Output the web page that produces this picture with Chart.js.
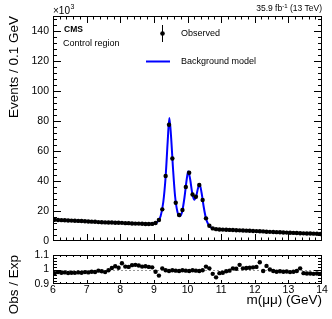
<!DOCTYPE html>
<html>
<head>
<meta charset="utf-8">
<script src="https://cdn.jsdelivr.net/npm/chart.js@4.4.1/dist/chart.umd.min.js"></script>
<style>
  html, body { margin: 0; padding: 0; background: #fff; }
  #wrap { position: relative; width: 332px; height: 319px; background: #fff; }
  #wrap canvas { position: absolute; left: 0; top: 0; }
</style>
</head>
<body>
<div id="wrap">
  <canvas id="mainChart" width="332" height="319"></canvas>
  <canvas id="ratioChart" width="332" height="319"></canvas>
</div>
<script>
/* bin centres, m(mumu) in GeV, 0.1 GeV bins */
const massBins = [
  6.05, 6.15, 6.25, 6.35, 6.45, 6.55, 6.65, 6.75, 6.85, 6.95,
  7.05, 7.15, 7.25, 7.35, 7.45, 7.55, 7.65, 7.75, 7.85, 7.95,
  8.05, 8.15, 8.25, 8.35, 8.45, 8.55, 8.65, 8.75, 8.85, 8.95,
  9.05, 9.15, 9.25, 9.35, 9.45, 9.55, 9.65, 9.75, 9.85, 9.95,
  10.05, 10.15, 10.25, 10.35, 10.45, 10.55, 10.65, 10.75, 10.85, 10.95,
  11.05, 11.15, 11.25, 11.35, 11.45, 11.55, 11.65, 11.75, 11.85, 11.95,
  12.05, 12.15, 12.25, 12.35, 12.45, 12.55, 12.65, 12.75, 12.85, 12.95,
  13.05, 13.15, 13.25, 13.35, 13.45, 13.55, 13.65, 13.75, 13.85, 13.95
];

/* observed events (x10^3) */
const observed = [
  14.1, 14.0, 13.9, 13.8, 13.7, 13.6, 13.5, 13.4, 13.3, 13.2,
  13.0, 12.9, 12.8, 12.6, 12.5, 12.4, 12.3, 12.3, 12.2, 12.2,
  12.1, 11.9, 11.9, 11.7, 11.6, 11.6, 11.5, 11.3, 11.3, 11.4,
  12.0, 14.0, 21.1, 43.3, 77.5, 55.0, 25.5, 17.3, 20.7, 36.0,
  45.5, 31.0, 29.5, 37.3, 27.3, 15.1, 10.2, 8.4, 7.9, 7.7,
  7.6, 7.5, 7.4, 7.3, 7.2, 7.1, 7.0, 6.9, 6.8, 6.7,
  6.6, 6.5, 6.4, 6.2, 6.1, 6.0, 5.9, 5.8, 5.7, 5.6,
  5.5, 5.4, 5.3, 5.2, 5.1, 5.0, 5.0, 4.9, 4.8, 4.7
];

/* background model curve */
const modelMass = [
  6.0, 6.5, 7.0, 7.5, 8.0, 8.5, 8.8, 9.0, 9.1, 9.2,
  9.28, 9.35, 9.41, 9.46, 9.51, 9.57, 9.63, 9.7, 9.77, 9.84,
  9.91, 9.97, 10.02, 10.08, 10.14, 10.2, 10.26, 10.31, 10.36, 10.42,
  10.48, 10.55, 10.62, 10.7, 10.8, 11.0, 11.5, 12.0, 12.5, 13.0,
  13.5, 14.0
];
const modelValues = [
  14.15, 13.65, 13.1, 12.45, 12.15, 11.6, 11.3, 11.6, 12.7, 16.5,
  26.0, 43.0, 66.0, 82.0, 70.0, 48.0, 30.0, 19.5, 16.5, 19.5,
  29.0, 40.0, 46.5, 41.0, 32.0, 27.5, 30.0, 35.0, 37.8, 32.0,
  23.0, 15.0, 11.0, 9.0, 8.1, 7.65, 7.15, 6.65, 6.05, 5.55,
  5.05, 4.65
];

/* observed / expected */
const ratio = [
  0.975, 0.982, 0.978, 0.980, 0.976, 0.978, 0.977, 0.980, 0.978, 0.982,
  0.980, 0.985, 0.983, 0.992, 0.988, 0.982, 0.995, 1.010, 1.022, 1.012,
  1.043, 1.020, 1.018, 1.030, 1.032, 1.028, 1.020, 1.022, 1.018, 1.015,
  0.985, 0.958, 1.008, 0.995, 0.990, 0.995, 0.992, 0.990, 0.995, 0.992,
  0.990, 0.995, 0.992, 0.990, 0.995, 1.020, 1.008, 0.970, 0.946, 0.975,
  0.978, 0.988, 0.992, 1.008, 1.005, 1.032, 1.008, 1.010, 1.012, 1.015,
  1.018, 1.050, 0.990, 1.025, 1.000, 0.990, 0.985, 0.988, 0.984, 0.986,
  0.982, 0.985, 0.990, 1.008, 0.975, 0.972, 0.972, 0.970, 0.972, 0.970
];
const ratioTicks = [0.9, 1, 1.1];

const FONT = '"Liberation Sans", Arial, Helvetica, sans-serif';

// ROOT-like frame with inward ticks on all four sides
function rootFrame(opts) {
    return {
        id: 'rootFrame',
        afterDraw(chart) {
            const { ctx, chartArea: a, scales: { x, y } } = chart;
            ctx.save();
            ctx.strokeStyle = '#000';
            ctx.lineWidth = 1;
            ctx.strokeRect(a.left + 0.5, a.top + 0.5, a.right - a.left - 1, a.bottom - a.top - 1);
            ctx.beginPath();
            const nx = Math.round((x.max - x.min) / opts.xMinor);
            for (let i = 1; i < nx; i++) {
                const v = x.min + i * opts.xMinor;
                const major = Math.abs(v / opts.xMajor - Math.round(v / opts.xMajor)) < 1e-6;
                const len = major ? opts.xLen : opts.xLen / 2;
                const px = Math.round(x.getPixelForValue(v)) + 0.5;
                ctx.moveTo(px, a.bottom); ctx.lineTo(px, a.bottom - len);
                ctx.moveTo(px, a.top); ctx.lineTo(px, a.top + len);
            }
            const ny = Math.round((y.max - y.min) / opts.yMinor);
            for (let i = 1; i < ny; i++) {
                const v = y.min + i * opts.yMinor;
                const major = Math.abs(v / opts.yMajor - Math.round(v / opts.yMajor)) < 1e-6;
                const len = major ? opts.yLen : opts.yLen / 2;
                const py = Math.round(y.getPixelForValue(v)) + 0.5;
                ctx.moveTo(a.left, py); ctx.lineTo(a.left + len, py);
                ctx.moveTo(a.right, py); ctx.lineTo(a.right - len, py);
            }
            ctx.stroke();
            ctx.restore();
        }
    };
}

const annotations = {
    id: 'annotations',
    afterDraw(chart) {
        const ctx = chart.ctx;
        ctx.save();
        ctx.fillStyle = '#000';
        ctx.textBaseline = 'alphabetic';
        ctx.textAlign = 'left';

        // x10^3
        ctx.font = '10px ' + FONT;
        ctx.fillText('\u00d710', 53, 14);
        const w10 = ctx.measureText('\u00d710').width;
        ctx.font = '7px ' + FONT;
        ctx.fillText('3', 53 + w10 + 0.5, 9);

        // lumi label
        const p1 = '35.9 fb', p2 = '-1', p3 = ' (13 TeV)';
        ctx.font = '8.5px ' + FONT;
        const w1 = ctx.measureText(p1).width, w3 = ctx.measureText(p3).width;
        ctx.font = '6px ' + FONT;
        const w2 = ctx.measureText(p2).width;
        let lx = 322 - (w1 + w2 + w3);
        ctx.font = '8.5px ' + FONT;
        ctx.fillText(p1, lx, 11);
        ctx.font = '6px ' + FONT;
        ctx.fillText(p2, lx + w1, 7.5);
        ctx.font = '8.5px ' + FONT;
        ctx.fillText(p3, lx + w1 + w2, 11);

        // CMS label
        ctx.font = 'bold 8.5px ' + FONT;
        ctx.fillText('CMS', 64, 32);
        ctx.font = '9px ' + FONT;
        ctx.fillText('Control region', 63, 46);

        // legend
        ctx.strokeStyle = '#000';
        ctx.lineWidth = 1;
        ctx.beginPath();
        ctx.moveTo(162.5, 25); ctx.lineTo(162.5, 42);
        ctx.stroke();
        ctx.beginPath();
        ctx.arc(162.5, 33.5, 2.3, 0, Math.PI * 2);
        ctx.fill();
        ctx.strokeStyle = '#0000ff';
        ctx.lineWidth = 2;
        ctx.beginPath();
        ctx.moveTo(146, 61.5); ctx.lineTo(170, 61.5);
        ctx.stroke();
        ctx.font = '9px ' + FONT;
        ctx.textBaseline = 'middle';
        ctx.fillText('Observed', 181, 33.5);
        ctx.fillText('Background model', 181, 61.5);
        ctx.restore();
    }
};

const unityLine = {
    id: 'unityLine',
    beforeDatasetsDraw(chart) {
        const { ctx, chartArea: a, scales: { y } } = chart;
        const py = Math.round(y.getPixelForValue(1)) + 0.5;
        ctx.save();
        ctx.strokeStyle = '#999';
        ctx.lineWidth = 1;
        ctx.setLineDash([2, 2]);
        ctx.beginPath();
        ctx.moveTo(a.left, py); ctx.lineTo(a.right, py);
        ctx.stroke();
        ctx.restore();
    }
};

const tickFont = { family: FONT, size: 10.5 };
const titleFont = { family: FONT, size: 13.5 };

/* ── Main panel ───────────────────────────── */
new Chart(document.getElementById('mainChart'), {
    type: 'scatter',
    data: {
        datasets: [
            {
                label: 'Observed',
                data: massBins.map((m, i) => ({ x: m, y: observed[i] })),
                showLine: false,
                pointRadius: 2.2,
                pointBorderWidth: 0,
                pointBackgroundColor: '#000',
            },
            {
                label: 'Background model',
                data: modelMass.map((m, i) => ({ x: m, y: modelValues[i] })),
                showLine: true,
                borderColor: '#0000ff',
                borderWidth: 2,
                pointRadius: 0,
                cubicInterpolationMode: 'monotone',
            }
        ]
    },
    options: {
        responsive: false,
        animation: false,
        devicePixelRatio: 1,
        layout: { padding: { left: 2, top: 16, right: 10, bottom: 78 } },
        plugins: { legend: { display: false }, tooltip: { enabled: false } },
        scales: {
            x: { type: 'linear', min: 6, max: 14, display: false },
            y: {
                min: 0, max: 150,
                grid: { display: false, drawTicks: false },
                border: { display: false },
                ticks: { stepSize: 20, includeBounds: false, autoSkip: false, color: '#000', font: tickFont, padding: 4 },
                title: { display: true, text: 'Events / 0.1 GeV', align: 'end', color: '#000', font: titleFont },
                afterFit: s => { s.width = 51; }
            }
        }
    },
    plugins: [rootFrame({ xMajor: 1, xMinor: 0.2, xLen: 7, yMajor: 20, yMinor: 4, yLen: 8 }), annotations]
});

/* ── Ratio panel ──────────────────────────── */
new Chart(document.getElementById('ratioChart'), {
    type: 'scatter',
    data: {
        datasets: [{
            label: 'Obs / Exp',
            data: massBins.map((m, i) => ({ x: m, y: ratio[i] })),
            pointRadius: 2.2,
            pointBorderWidth: 0,
            pointBackgroundColor: '#000',
        }]
    },
    options: {
        responsive: false,
        animation: false,
        devicePixelRatio: 1,
        layout: { padding: { left: 2, top: 255, right: 10, bottom: 7 } },
        plugins: { legend: { display: false }, tooltip: { enabled: false } },
        scales: {
            x: {
                type: 'linear', min: 6, max: 14,
                grid: { display: false, drawTicks: false },
                border: { display: false },
                ticks: { stepSize: 1, autoSkip: false, color: '#000', font: tickFont, padding: 0, maxRotation: 0 },
                title: { display: true, text: 'm(\u03bc\u03bc) (GeV)', align: 'end', color: '#000', font: titleFont },
                afterFit: s => { s.height = 28; }
            },
            y: {
                min: 0.9, max: 1.1,
                grid: { display: false, drawTicks: false },
                border: { display: false },
                afterBuildTicks: s => { s.ticks = ratioTicks.map(v => ({ value: v })); },
                ticks: { autoSkip: false, color: '#000', font: tickFont, padding: 4, callback: v => String(v) },
                title: { display: true, text: 'Obs / Exp', align: 'end', color: '#000', font: titleFont },
                afterFit: s => { s.width = 51; }
            }
        }
    },
    plugins: [unityLine, rootFrame({ xMajor: 1, xMinor: 0.2, xLen: 4, yMajor: 0.1, yMinor: 0.02, yLen: 8 })]
});
</script>
</body>
</html>
